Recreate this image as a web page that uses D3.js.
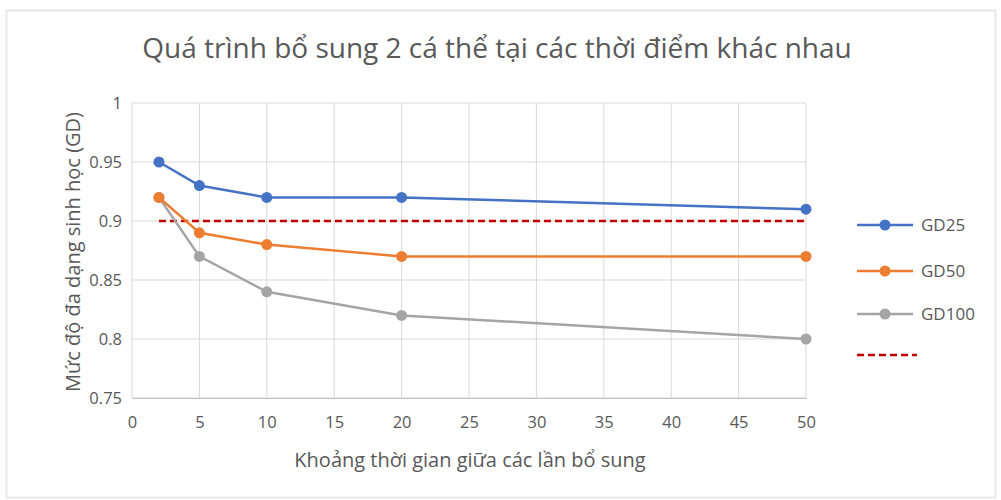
<!DOCTYPE html>
<html><head><meta charset="utf-8">
<script src="https://cdn.jsdelivr.net/npm/d3@7"></script>
<style>body{margin:0;background:#fff}</style>
</head><body>
<svg id="c" width="1001" height="500"></svg>
<script>
const xValues = [2, 5, 10, 20, 50];
const gd25 = [0.95, 0.93, 0.92, 0.92, 0.91];
const gd50 = [0.92, 0.89, 0.88, 0.87, 0.87];
const gd100 = [0.92, 0.87, 0.84, 0.82, 0.80];
const threshold = [0.9, 0.9];
const thresholdX = [2, 50];
const seriesNames = ["GD25", "GD50", "GD100", ""];
const xTicks = [0,5,10,15,20,25,30,35,40,45,50];
const yTicks = [0.75,0.8,0.85,0.9,0.95,1];
const title = "Quá trình bổ sung 2 cá thể tại các thời điểm khác nhau";
const xTitle = "Khoảng thời gian giữa các lần bổ sung";
const yTitle = "Mức độ đa dạng sinh học (GD)";

const svg = d3.select("#c");
const font = "'Open Sans', sans-serif";
const textCol = "#595959";
const colors = ["#4472C4", "#ED7D31", "#A5A5A5"];

svg.append("rect").attr("x",6.5).attr("y",10.5).attr("width",989).attr("height",487)
  .attr("fill","none").attr("stroke","#e8e8e8").attr("stroke-width",2);

const x = d3.scaleLinear().domain([0,50]).range([132,806]);
const y = d3.scaleLinear().domain([0.75,1]).range([398,103]);

const g = svg.append("g");
g.selectAll(".hg").data(yTicks).join("line")
  .attr("x1",x(0)).attr("x2",x(50)).attr("y1",d=>y(d)).attr("y2",d=>y(d))
  .attr("stroke","#d9d9d9").attr("stroke-width",1);
g.selectAll(".vg").data(xTicks).join("line")
  .attr("y1",y(0.75)).attr("y2",y(1)).attr("x1",d=>x(d)).attr("x2",d=>x(d))
  .attr("stroke","#d9d9d9").attr("stroke-width",1);

const xa = svg.append("g").attr("transform",`translate(0,${y(0.75)})`)
  .call(d3.axisBottom(x).tickValues(xTicks).tickSize(0).tickPadding(18));
xa.select(".domain").attr("stroke","#bfbfbf");
xa.selectAll("text").attr("font-family",font).attr("font-size",16.5).attr("fill",textCol);

const ya = svg.append("g").attr("transform",`translate(${x(0)},0)`)
  .call(d3.axisLeft(y).tickValues(yTicks).tickSize(0).tickPadding(10).tickFormat(d=>String(+d.toFixed(2))));
ya.select(".domain").remove();
ya.selectAll("text").attr("font-family",font).attr("font-size",16.5).attr("fill",textCol);

const line = d3.line().x(d=>x(d[0])).y(d=>y(d[1]));
svg.append("path").datum(thresholdX.map((v,i)=>[v,threshold[i]]))
  .attr("d",line).attr("fill","none").attr("stroke","#C00000")
  .attr("stroke-width",2.5).attr("stroke-dasharray","7,4");

const series = [gd25, gd50, gd100];
series.slice().reverse().forEach((s,ri)=>{
  const i = series.length-1-ri;
  const pts = xValues.map((v,j)=>[v,s[j]]);
  svg.append("path").datum(pts).attr("d",line).attr("fill","none")
    .attr("stroke",colors[i]).attr("stroke-width",2.5);
  svg.selectAll(null).data(pts).join("circle")
    .attr("cx",d=>x(d[0])).attr("cy",d=>y(d[1])).attr("r",5.5).attr("fill",colors[i]);
});

svg.append("text").attr("x",497).attr("y",58).attr("text-anchor","middle")
  .attr("font-family",font).attr("font-size",28).attr("fill",textCol).text(title);
svg.append("text").attr("x",470).attr("y",467).attr("text-anchor","middle")
  .attr("font-family",font).attr("font-size",20).attr("fill",textCol).text(xTitle);
svg.append("text").attr("transform",`translate(80,252) rotate(-90)`).attr("text-anchor","middle")
  .attr("font-family",font).attr("font-size",20).attr("fill",textCol).text(yTitle);

const ly = [225, 271, 314, 355];
seriesNames.forEach((n,i)=>{
  if(i<3){
    svg.append("line").attr("x1",857).attr("x2",913).attr("y1",ly[i]).attr("y2",ly[i])
      .attr("stroke",colors[i]).attr("stroke-width",2.5);
    svg.append("circle").attr("cx",885).attr("cy",ly[i]).attr("r",5.5).attr("fill",colors[i]);
    svg.append("text").attr("x",921).attr("y",ly[i]+6).attr("font-family",font)
      .attr("font-size",17).attr("fill",textCol).text(n);
  } else {
    svg.append("line").attr("x1",857).attr("x2",917).attr("y1",ly[i]).attr("y2",ly[i])
      .attr("stroke","#C00000").attr("stroke-width",2.5).attr("stroke-dasharray","7,4");
  }
});
</script>
</body></html>
